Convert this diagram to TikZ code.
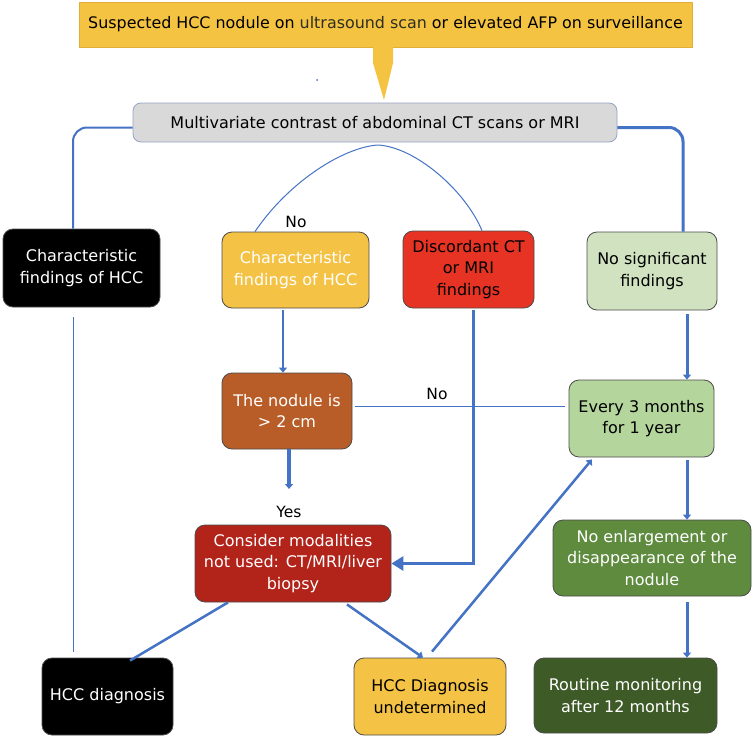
\documentclass[tikz,border=0pt]{standalone}
\usepackage{fontspec}
\setmainfont{DejaVu Sans}
\usetikzlibrary{arrows.meta}

\definecolor{calloutyel}{HTML}{F5C342}
\definecolor{calloutedge}{HTML}{E2AE3A}
\definecolor{usolive}{HTML}{2E2E22}
\definecolor{graybox}{HTML}{D9D9D9}
\definecolor{grayedge}{HTML}{95A3C6}
\definecolor{linkblue}{HTML}{4472C4}
\definecolor{yelbox}{HTML}{F4C244}
\definecolor{discred}{HTML}{E63323}
\definecolor{palegreen}{HTML}{D0E2BF}
\definecolor{midgreen}{HTML}{B4D59C}
\definecolor{nodbrown}{HTML}{B85D27}
\definecolor{darkred}{HTML}{B2231A}
\definecolor{olivegreen}{HTML}{5E8B3E}
\definecolor{deepgreen}{HTML}{3E5B27}

\tikzset{
    flow/.style={rectangle, draw=black!70, line width=0.8pt, rounded corners=10pt, align=center, inner sep=2pt, font=\fontsize{16}{21.5}\selectfont},
    lbl/.style={inner sep=1pt, font=\fontsize{15.5}{18}\selectfont},
    link/.style={draw=linkblue, line width=2.5pt},
    thinlink/.style={draw=linkblue, line width=1pt},
    headsmall/.style={-{Triangle[length=5pt,width=8pt]}},
    headbig/.style={-{Triangle[length=12pt,width=14pt]}}
}

\begin{document}
\begin{tikzpicture}[x=1pt, y=-1pt]
    \useasboundingbox (0,0) rectangle (756,739);

    % Suspicion and first imaging
    \node[flow, draw=calloutedge, fill=calloutyel, rounded corners=0pt, minimum width=613pt, minimum height=45pt, font=\fontsize{15.9}{20}\selectfont] (suspect) at (385.5,24.5) {Suspected HCC nodule on {\color{usolive}ultrasound scan} or elevated AFP on surveillance};
    \fill[calloutyel] (373,46) -- (373,63) -- (384,100) -- (393,63) -- (393,46) -- cycle;
    \fill[linkblue] (317,80) circle (1pt);
    \node[flow, draw=grayedge, fill=graybox, rounded corners=8pt, minimum width=484pt, minimum height=39pt] (imaging) at (375,122.5) {Multivariate contrast of abdominal CT scans or MRI};

    % Imaging outcomes
    \node[flow, fill=black, text=white, minimum width=157pt, minimum height=78pt] (typical) at (81.5,268) {Characteristic\\findings of HCC};
    \node[flow, fill=yelbox, text=white, minimum width=147pt, minimum height=76pt] (nochar) at (295.5,270) {Characteristic\\findings of HCC};
    \node[flow, fill=discred, minimum width=131pt, minimum height=77pt] (discord) at (468.5,269.5) {Discordant CT\\or MRI\\findings};
    \node[flow, fill=palegreen, minimum width=130pt, minimum height=78pt] (nofind) at (652,271) {No significant\\findings};

    % Second row
    \node[flow, fill=nodbrown, text=white, minimum width=130pt, minimum height=76pt] (nodule) at (287,411) {The nodule is\\> 2 cm};
    \node[flow, fill=midgreen, minimum width=145pt, minimum height=77pt] (followup) at (641.5,418.5) {Every 3 months\\for 1 year};

    % Third row
    \node[flow, fill=darkred, text=white, minimum width=196pt, minimum height=77pt] (modal) at (293,563.5) {Consider modalities\\not used: CT/MRI/liver\\biopsy};
    \node[flow, fill=olivegreen, text=white, minimum width=198pt, minimum height=76pt] (stable) at (652,558) {No enlargement or\\disappearance of the\\nodule};

    % Final outcomes
    \node[flow, fill=black, text=white, minimum width=131pt, minimum height=77pt] (hccdx) at (107.5,696.5) {HCC diagnosis};
    \node[flow, fill=yelbox, minimum width=152pt, minimum height=77pt] (undet) at (430,696.5) {HCC Diagnosis\\undetermined};
    \node[flow, fill=deepgreen, text=white, minimum width=183pt, minimum height=75pt] (routine) at (625.5,695.5) {Routine monitoring\\after 12 months};

    % Labels
    \node[lbl] (nolbl) at (296,222) {No};
    \node[lbl] (nolbltwo) at (437,394) {No};
    \node[lbl] (yes) at (289,512) {Yes};
    \coordinate (apex) at (378,145);
    \coordinate (yesend) at (289,489);

    % Connectors
    \draw[link, line width=2pt, rounded corners=14pt] ([yshift=-5pt]imaging.west) -| ([xshift=-8.5pt]typical.north);
    \draw[link, line width=3pt, rounded corners=14pt] ([yshift=-5pt]imaging.east) -| ([xshift=31pt]nofind.north);
    \draw[thinlink] ([xshift=-40.5pt]nochar.north) .. controls (290,180) and (345,147) .. (apex)
        .. controls (415,147) and (465,190) .. ([xshift=13.5pt]discord.north);
    \draw[thinlink] ([xshift=-8.5pt,yshift=-10pt]typical.south) -- ([xshift=-34.5pt,yshift=6pt]hccdx.north);
    \draw[link, line width=2pt, headsmall] ([xshift=-12.5pt,yshift=-2pt]nochar.south) -- ([xshift=-4pt]nodule.north);
    \draw[link, line width=4pt, headsmall] ([xshift=2pt]nodule.south) -- (yesend);
    \draw[link, line width=3pt, headbig] ([xshift=4.5pt,yshift=-2pt]discord.south) |- (modal.east);
    \draw[thinlink] ([xshift=3pt,yshift=5pt]nodule.east) -- ([xshift=-4pt,yshift=12.5pt]followup.west);
    \draw[link, line width=3pt, headsmall] ([xshift=35pt,yshift=-4pt]nofind.south) -- ([xshift=45.5pt]followup.north);
    \draw[link, line width=3pt, headsmall] ([xshift=45.5pt,yshift=-3pt]followup.south) -- ([xshift=35pt]stable.north);
    \draw[link, line width=3pt, headsmall] ([xshift=35pt,yshift=-6pt]stable.south) -- ([xshift=61.5pt]routine.north);
    \draw[link] ([xshift=-65pt]modal.south) -- ([xshift=22.5pt,yshift=-3pt]hccdx.north);
    \draw[link, headsmall] ([xshift=54pt,yshift=-2pt]modal.south) -- ([xshift=-7pt]undet.north);
    \draw[link, headsmall] ([xshift=2pt,yshift=6pt]undet.north) -- ([xshift=-49.5pt,yshift=-2pt]followup.south);
\end{tikzpicture}
\end{document}
